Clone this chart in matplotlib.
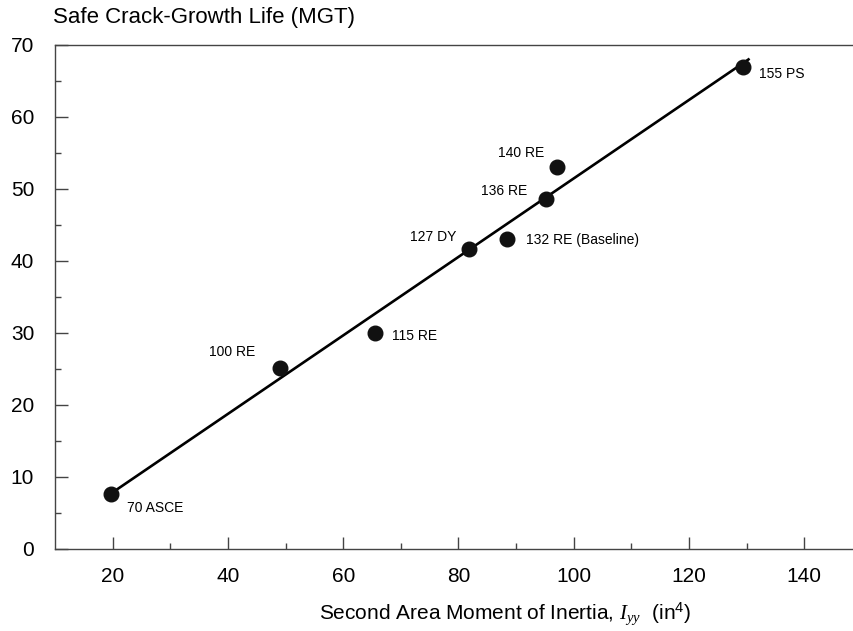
import numpy as np
import matplotlib.pyplot as plt

plt.rcParams['font.family'] = ['Liberation Sans', 'DejaVu Sans']
plt.rcParams['mathtext.fontset'] = 'custom'
plt.rcParams['mathtext.it'] = 'Liberation Serif:italic'
plt.rcParams['mathtext.rm'] = 'Liberation Sans'

# Sections: second area moment Iyy (in^4) vs safe crack-growth life (MGT)
sections = ['70 ASCE', '100 RE', '115 RE', '127 DY', '132 RE (Baseline)',
            '136 RE', '140 RE', '155 PS']
iyy = [19.7, 49.1, 65.6, 81.9, 88.4, 95.2, 97.1, 129.4]
life = [7.7, 25.1, 30.0, 41.6, 43.0, 48.6, 53.1, 67.0]

# label offsets in pixels (dx, dy) and horizontal alignment
label_dx = [16, -25, 17, -13, 19, -19, -13, 16]
label_dy = [-14, 16, -3, 12, -1, 8, 14, -7]
label_ha = ['left', 'right', 'left', 'right', 'left', 'right', 'right', 'left']

# trend line drawn on the chart
trend_x = [19.7, 130.5]
trend_y = [7.7, 68.1]

fig = plt.figure(figsize=(8.54, 6.31), dpi=100)
ax = fig.add_axes([55 / 854, 1 - 549 / 631, 807 / 854, 504 / 631])

ax.plot(trend_x, trend_y, color='black', lw=1.9, solid_capstyle='butt')
ax.plot(iyy, life, 'o', color='#111111', markersize=10.5, zorder=3)

for name, x, y, dx, dy, ha in zip(sections, iyy, life, label_dx, label_dy, label_ha):
    ax.annotate(name, (x, y), xytext=(dx, dy), textcoords='offset pixels',
                ha=ha, va='center', fontsize=10)

ax.set_xlim(10, 150)
ax.set_ylim(0, 70)
ax.set_xticks(np.arange(20, 141, 20))
ax.set_xticks(np.arange(30, 141, 20), minor=True)
ax.set_yticks(np.arange(0, 71, 10))
ax.set_yticks(np.arange(5, 70, 10), minor=True)

ax.spines['right'].set_visible(False)
for side in ['left', 'bottom', 'top']:
    ax.spines[side].set_color('#444444')
    ax.spines[side].set_linewidth(1.0)

ax.tick_params(which='both', direction='in', color='#444444', width=1.0)
ax.tick_params(which='major', length=9, labelsize=15)
ax.tick_params(which='minor', length=4.5)
ax.tick_params(axis='x', which='major', pad=13)
ax.tick_params(axis='y', which='major', pad=15)

fig.text(53 / 854, 1 - 17 / 631, 'Safe Crack-Growth Life (MGT)', fontsize=16,
         ha='left', va='center')
fig.text(505 / 854, 1 - 614 / 631,
         r'Second Area Moment of Inertia, $I_{yy}$  (in$^{\mathrm{4}}$)',
         fontsize=15, ha='center', va='center')

fig.savefig('out.png', dpi=100)
